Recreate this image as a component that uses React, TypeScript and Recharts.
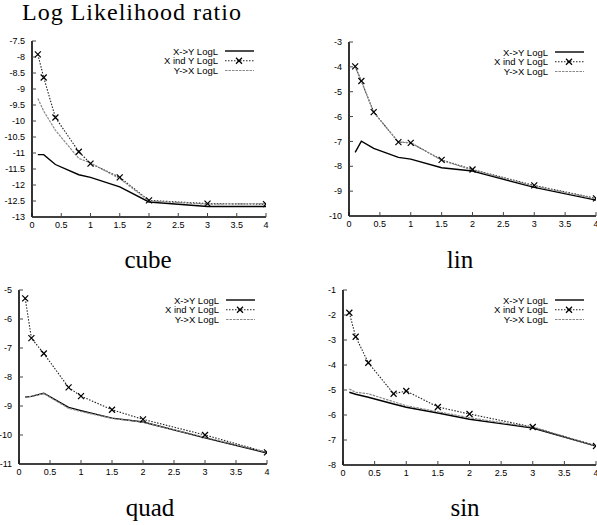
import React from 'react';
import { LineChart, Line, XAxis, YAxis, Legend } from 'recharts';

// ---------- data ----------
const xValues = [0.1, 0.2, 0.4, 0.8, 1, 1.5, 2, 3, 4];
const xTicks = [0, 0.5, 1, 1.5, 2, 2.5, 3, 3.5, 4];

const cubeXtoY = [-11.05, -11.05, -11.36, -11.68, -11.76, -12.06, -12.53, -12.67, -12.67];
const cubeInd = [-7.92, -8.64, -9.89, -10.96, -11.33, -11.76, -12.48, -12.58, -12.6];
const cubeYtoX = [-9.3, -9.69, -10.29, -11.17, -11.31, -11.8, -12.5, -12.6, -12.58];
const cubeTicks = [-7.5, -8, -8.5, -9, -9.5, -10, -10.5, -11, -11.5, -12, -12.5, -13];

const linXtoY = [-7.44, -6.99, -7.28, -7.64, -7.71, -8.06, -8.19, -8.85, -9.36];
const linInd = [-3.98, -4.57, -5.82, -7.03, -7.06, -7.74, -8.13, -8.77, -9.29];
const linYtoX = [-4.0, -4.58, -5.83, -7.02, -7.05, -7.76, -8.15, -8.8, -9.31];
const linTicks = [-3, -4, -5, -6, -7, -8, -9, -10];

const quadXtoY = [-8.69, -8.67, -8.56, -9.05, -9.16, -9.42, -9.55, -10.1, -10.62];
const quadInd = [-5.29, -6.66, -7.19, -8.36, -8.66, -9.13, -9.46, -10.0, -10.6];
const quadYtoX = [-8.69, -8.67, -8.57, -9.08, -9.19, -9.43, -9.56, -10.08, -10.6];
const quadTicks = [-5, -6, -7, -8, -9, -10, -11];

const sinXtoY = [-5.09, -5.17, -5.29, -5.56, -5.69, -5.92, -6.17, -6.52, -7.24];
const sinInd = [-1.91, -2.87, -3.91, -5.15, -5.04, -5.68, -5.96, -6.48, -7.24];
const sinYtoX = [-4.96, -5.09, -5.15, -5.47, -5.63, -5.87, -6.11, -6.49, -7.24];
const sinTicks = [-1, -2, -3, -4, -5, -6, -7, -8];

const seriesNames = ['X->Y LogL', 'X ind Y LogL', 'Y->X LogL'];
const panelLabels = ['cube', 'lin', 'quad', 'sin'];
const titleText = 'Log Likelihood ratio';

// ---------- styles ----------
const SANS = '"Liberation Sans", Arial, Helvetica, sans-serif';
const SERIF = '"Liberation Serif", "Times New Roman", Times, serif';

const seriesStyles = [
  { key: 'xy', color: '#000', width: 1.4, dash: undefined as string | undefined, marker: false },
  { key: 'ind', color: '#222', width: 1.1, dash: '1.5 1.5', marker: true },
  { key: 'yx', color: '#8a8a8a', width: 1.2, dash: '2.5 1', marker: false },
];

const XMark = (props: any) => {
  const { cx, cy } = props;
  if (cx == null || cy == null) return null;
  const s = 3;
  return (
    <g>
      <line x1={cx - s} y1={cy - s} x2={cx + s} y2={cy + s} stroke="#000" strokeWidth={1.2} />
      <line x1={cx - s} y1={cy + s} x2={cx + s} y2={cy - s} stroke="#000" strokeWidth={1.2} />
    </g>
  );
};

const LEG_W = 120;
const LegendBox = () => (
  <svg width={LEG_W} height={36} style={{ display: 'block', overflow: 'visible' }}>
    {seriesStyles.map((s, i) => {
      const cy = 10 + i * 9.75;
      return (
        <g key={s.key}>
          <text
            x={LEG_W - 48}
            y={cy}
            textAnchor="end"
            dominantBaseline="central"
            fontSize={9.5}
            fontFamily={SANS}
            fill="#000"
          >
            {seriesNames[i]}
          </text>
          <line
            x1={LEG_W - 41}
            x2={LEG_W - 12}
            y1={cy}
            y2={cy}
            stroke={s.color}
            strokeWidth={s.width}
            strokeDasharray={s.dash}
          />
          {s.marker && <XMark cx={LEG_W - 27} cy={cy} />}
        </g>
      );
    })}
  </svg>
);

type PanelProps = {
  left: number;
  top: number;
  width: number;
  height: number;
  mTop: number;
  mRight: number;
  yWidth: number;
  xHeight: number;
  yTicks: number[];
  xy: number[];
  ind: number[];
  yx: number[];
};

function Panel(p: PanelProps) {
  const data = xValues.map((x, i) => ({ x, xy: p.xy[i], ind: p.ind[i], yx: p.yx[i] }));
  const yDomain = [Math.min(...p.yTicks), Math.max(...p.yTicks)];
  const plotRight = p.width - p.mRight;
  const tickFont = { fill: '#000', fontSize: 9, fontFamily: SANS };
  return (
    <div style={{ position: 'absolute', left: p.left, top: p.top }}>
      <LineChart
        width={p.width}
        height={p.height}
        data={data}
        margin={{ top: p.mTop, right: p.mRight, bottom: 0, left: 0 }}
      >
        <XAxis
          xAxisId="b"
          dataKey="x"
          type="number"
          domain={[0, 4]}
          ticks={xTicks}
          interval={0}
          allowDataOverflow
          height={p.xHeight}
          tickSize={-4}
          tickMargin={9}
          axisLine={{ stroke: '#000', strokeWidth: 1.6 }}
          tickLine={{ stroke: '#444' }}
          tick={tickFont}
        />
        <XAxis
          xAxisId="t"
          orientation="top"
          dataKey="x"
          type="number"
          domain={[0, 4]}
          ticks={xTicks}
          interval={0}
          allowDataOverflow
          height={0}
          tickSize={-4}
          tickFormatter={() => ''}
          axisLine={{ stroke: '#888' }}
          tickLine={{ stroke: '#444' }}
        />
        <YAxis
          yAxisId="l"
          type="number"
          domain={yDomain}
          ticks={p.yTicks}
          interval={0}
          allowDataOverflow
          width={p.yWidth}
          tickSize={-4}
          tickMargin={11}
          axisLine={{ stroke: '#000', strokeWidth: 1.6 }}
          tickLine={{ stroke: '#444' }}
          tick={tickFont}
        />
        <YAxis
          yAxisId="r"
          orientation="right"
          type="number"
          domain={yDomain}
          ticks={p.yTicks}
          interval={0}
          allowDataOverflow
          width={0}
          tickSize={-4}
          tickFormatter={() => ''}
          axisLine={{ stroke: '#888' }}
          tickLine={{ stroke: '#444' }}
        />
        <Legend
          layout="vertical"
          align="center"
          verticalAlign="middle"
          content={() => <LegendBox />}
          wrapperStyle={{ left: plotRight - LEG_W, top: p.mTop, width: LEG_W, height: 36 }}
        />
        <Line
          xAxisId="b"
          yAxisId="l"
          dataKey="xy"
          name={seriesNames[0]}
          stroke={seriesStyles[0].color}
          strokeWidth={seriesStyles[0].width}
          dot={false}
          activeDot={false}
          isAnimationActive={false}
        />
        <Line
          xAxisId="b"
          yAxisId="l"
          dataKey="ind"
          name={seriesNames[1]}
          stroke={seriesStyles[1].color}
          strokeWidth={seriesStyles[1].width}
          strokeDasharray={seriesStyles[1].dash}
          dot={(d: any) => <XMark key={`m${d.index}`} cx={d.cx} cy={d.cy} />}
          activeDot={false}
          isAnimationActive={false}
        />
        <Line
          xAxisId="b"
          yAxisId="l"
          dataKey="yx"
          name={seriesNames[2]}
          stroke={seriesStyles[2].color}
          strokeWidth={seriesStyles[2].width}
          strokeDasharray={seriesStyles[2].dash}
          dot={false}
          activeDot={false}
          isAnimationActive={false}
        />
      </LineChart>
    </div>
  );
}

const labelStyle = (cx: number, baseline: number): React.CSSProperties => ({
  position: 'absolute',
  left: cx - 60,
  width: 120,
  top: baseline - 21,
  textAlign: 'center',
  fontFamily: SERIF,
  fontSize: 25,
  lineHeight: '25px',
  color: '#000',
  whiteSpace: 'nowrap',
});

export default function App() {
  return (
    <div
      style={{
        position: 'absolute',
        left: 0,
        top: 0,
        width: 597,
        height: 525,
        background: '#fff',
        overflow: 'hidden',
      }}
    >
      <div
        style={{
          position: 'absolute',
          left: 22,
          top: 0,
          fontFamily: SERIF,
          fontSize: 24,
          letterSpacing: 1,
          lineHeight: '24px',
          color: '#000',
          whiteSpace: 'nowrap',
        }}
      >
        {titleText}
      </div>

      <Panel left={0} top={30} width={300} height={210} mTop={11} mRight={34} yWidth={32} xHeight={23}
        yTicks={cubeTicks} xy={cubeXtoY} ind={cubeInd} yx={cubeYtoX} />
      <Panel left={297} top={30} width={300} height={210} mTop={12} mRight={1} yWidth={52} xHeight={24}
        yTicks={linTicks} xy={linXtoY} ind={linInd} yx={linYtoX} />
      <Panel left={0} top={280} width={300} height={210} mTop={10} mRight={33} yWidth={19} xHeight={26}
        yTicks={quadTicks} xy={quadXtoY} ind={quadInd} yx={quadYtoX} />
      <Panel left={297} top={280} width={300} height={210} mTop={10} mRight={1} yWidth={46} xHeight={25}
        yTicks={sinTicks} xy={sinXtoY} ind={sinInd} yx={sinYtoX} />

      <div style={labelStyle(148, 268)}>{panelLabels[0]}</div>
      <div style={labelStyle(460, 268)}>{panelLabels[1]}</div>
      <div style={labelStyle(150, 516)}>{panelLabels[2]}</div>
      <div style={labelStyle(465, 516)}>{panelLabels[3]}</div>
    </div>
  );
}
